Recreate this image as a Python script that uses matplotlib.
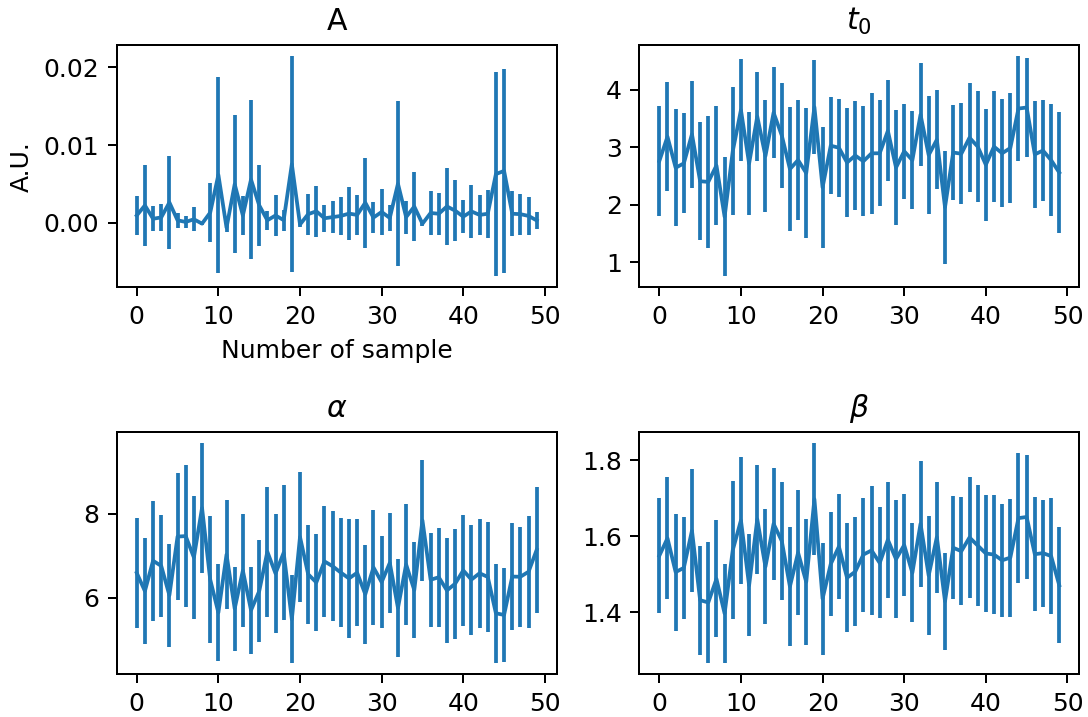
import numpy as np
import matplotlib
matplotlib.use("Agg")
import matplotlib.pyplot as plt

samples = list(range(50))

A_mean = [0.00096, 0.00225, 0.00054, 0.00071, 0.00263, 0.00034, 0.00013, 0.00047, -0.00009, 0.00133,
          0.00617, -0.0006, 0.00497, 0.00096, 0.00557, 0.00227, 0.00034, 0.00096, 0.00036, 0.00754,
          -0.0002, 0.00113, 0.0015, 0.0006, 0.00075, 0.0009, 0.0012, 0.00103, 0.0026, 0.00069,
          0.00141, 0.00064, 0.00503, 0.00075, 0.0021, -0.0001, 0.00128, 0.00118, 0.00212, 0.00158,
          0.00081, 0.00148, 0.00103, 0.00118, 0.00627, 0.00668, 0.00118, 0.00113, 0.0009, 0.00032]
A_err = [0.00246, 0.00525, 0.00161, 0.00178, 0.00593, 0.001, 0.00073, 0.00154, 0.0002, 0.00381,
         0.01259, 0.0005, 0.00882, 0.00246, 0.01019, 0.00518, 0.0012, 0.00268, 0.00135, 0.01388,
         0.0003, 0.00263, 0.0033, 0.00176, 0.00203, 0.0024, 0.00343, 0.00253, 0.00578, 0.00197,
         0.003, 0.00163, 0.0106, 0.00212, 0.00445, 0.0003, 0.00278, 0.00268, 0.00499, 0.00394,
         0.00214, 0.0034, 0.00261, 0.0031, 0.01313, 0.0131, 0.00289, 0.00263, 0.0024, 0.00109]

t0_mean = [2.762, 3.186, 2.646, 2.721, 3.229, 2.411, 2.399, 2.684, 1.793, 2.936,
           3.650, 2.719, 3.537, 2.849, 3.604, 3.209, 2.623, 2.779, 2.553, 3.702,
           2.304, 3.029, 2.994, 2.736, 2.858, 2.759, 2.896, 2.898, 3.287, 2.649,
           2.933, 2.777, 3.569, 2.867, 3.133, 1.958, 2.910, 2.890, 3.168, 3.015,
           2.698, 3.012, 2.898, 2.988, 3.676, 3.694, 2.878, 2.945, 2.777, 2.562]
t0_err = [0.963, 0.946, 1.021, 0.871, 0.932, 1.030, 1.152, 1.030, 1.039, 1.114,
          0.888, 0.902, 0.769, 0.969, 0.789, 0.911, 1.074, 1.045, 1.132, 0.824,
          1.056, 0.847, 0.853, 0.949, 0.943, 0.961, 1.056, 0.926, 0.879, 1.007,
          0.827, 0.850, 0.900, 1.021, 0.859, 0.984, 0.833, 0.876, 0.952, 0.972,
          0.975, 0.963, 0.943, 0.963, 0.914, 0.862, 0.934, 0.873, 0.978, 1.053]

alpha_mean = [6.593, 6.162, 6.881, 6.759, 6.063, 7.455, 7.466, 6.960, 8.134, 6.435,
              5.652, 7.028, 5.747, 6.648, 5.708, 6.158, 7.095, 6.581, 7.071, 5.494,
              7.447, 6.561, 6.368, 6.866, 6.751, 6.601, 6.462, 6.597, 6.087, 6.723,
              6.375, 6.830, 5.763, 6.794, 6.186, 7.838, 6.431, 6.490, 6.178, 6.336,
              6.652, 6.435, 6.585, 6.498, 5.636, 5.597, 6.506, 6.502, 6.621, 7.142]
alpha_err = [1.304, 1.253, 1.419, 1.217, 1.225, 1.510, 1.688, 1.458, 1.542, 1.510,
             1.154, 1.289, 0.996, 1.336, 1.036, 1.209, 1.538, 1.411, 1.601, 1.043,
             1.534, 1.178, 1.150, 1.324, 1.304, 1.289, 1.411, 1.269, 1.170, 1.364,
             1.095, 1.186, 1.170, 1.435, 1.134, 1.427, 1.111, 1.178, 1.245, 1.300,
             1.316, 1.304, 1.289, 1.304, 1.178, 1.115, 1.265, 1.182, 1.324, 1.498]

beta_mean = [1.549, 1.595, 1.506, 1.517, 1.615, 1.432, 1.426, 1.488, 1.397, 1.564,
             1.642, 1.471, 1.645, 1.520, 1.633, 1.588, 1.468, 1.557, 1.480, 1.698,
             1.436, 1.527, 1.573, 1.491, 1.507, 1.552, 1.563, 1.530, 1.591, 1.540,
             1.577, 1.504, 1.633, 1.497, 1.598, 1.429, 1.570, 1.561, 1.597, 1.576,
             1.555, 1.552, 1.537, 1.544, 1.648, 1.651, 1.553, 1.556, 1.548, 1.471]
beta_err = [0.152, 0.161, 0.154, 0.134, 0.162, 0.143, 0.160, 0.154, 0.131, 0.181,
            0.167, 0.134, 0.143, 0.151, 0.148, 0.156, 0.157, 0.165, 0.165, 0.148,
            0.147, 0.136, 0.139, 0.143, 0.144, 0.150, 0.170, 0.146, 0.152, 0.155,
            0.134, 0.130, 0.166, 0.157, 0.146, 0.128, 0.135, 0.142, 0.160, 0.160,
            0.153, 0.156, 0.149, 0.155, 0.172, 0.164, 0.150, 0.141, 0.153, 0.153]

titles = ["A", "$t_0$", r"$\alpha$", r"$\beta$"]
x_ticks = [0, 10, 20, 30, 40, 50]
t0_ticks = [1, 2, 3, 4]

DPI = 180
fig, axes = plt.subplots(2, 2, figsize=(1088 / DPI, 717 / DPI), dpi=DPI)
fig.subplots_adjust(left=0.1073, right=0.992, top=0.9372, bottom=0.0596,
                    wspace=0.1877, hspace=0.596)

series = [(A_mean, A_err), (t0_mean, t0_err), (alpha_mean, alpha_err), (beta_mean, beta_err)]
for ax, (m, e), title in zip(axes.flat, series, titles):
    ax.errorbar(samples, m, yerr=e, color="#1f77b4")
    ax.set_title(title)
    ax.set_xticks(x_ticks)

axes[0, 1].set_yticks(t0_ticks)
axes[0, 0].set_xlabel("Number of sample")
axes[0, 0].set_ylabel("A.U.")

fig.savefig("out.png", dpi=DPI)
